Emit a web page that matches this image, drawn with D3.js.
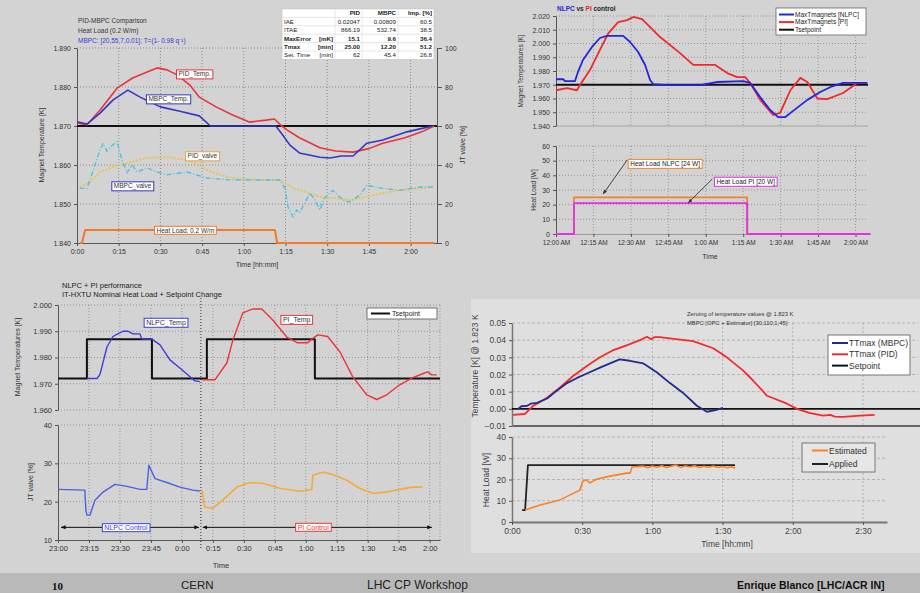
<!DOCTYPE html>
<html><head><meta charset="utf-8">
<script src="https://cdn.jsdelivr.net/npm/d3@7"></script>
<style>
body{margin:0;background:#d3d3d3;}
svg{display:block;font-family:"Liberation Sans",Arial,sans-serif;}
</style></head><body>
<svg id="c" width="920" height="593"></svg>
<script>
// ---------------- DATA ----------------
// Top-left: PID vs MBPC (minutes, K / %)
const tlXTicks = [0,15,30,45,60,75,90,105,120];
const tlXLabels = ["0:00","0:15","0:30","0:45","1:00","1:15","1:30","1:45","2:00"];
const tlYTicks = [1.84,1.85,1.86,1.87,1.88,1.89];
const tlY2Ticks = [0,20,40,60,80,100];
const tlSetpoint = 1.870;
const tlPidTemp = [[0,1.8708],[3.6,1.8703],[8.3,1.8741],[14.4,1.8797],[20,1.8823],[25,1.8838],[28.8,1.8849],[32.4,1.8844],[36,1.8831],[40.6,1.8805],[44,1.8774],[50,1.8749],[56,1.8728],[62,1.871],[68,1.8715],[71,1.8718],[73.7,1.870],[75.5,1.869],[80,1.867],[87.4,1.8644],[93,1.8636],[99.3,1.8633],[105,1.8642],[110,1.8656],[118,1.867],[124,1.8685],[128.5,1.870]];
const tlMbpcTemp = [[0,1.8711],[3.6,1.8705],[8.3,1.8733],[13,1.8767],[18.3,1.8792],[22.7,1.8774],[30,1.8749],[37,1.8738],[44,1.8726],[48,1.870],[71.5,1.870],[74,1.8677],[76.6,1.8651],[80,1.8631],[87.4,1.862],[91,1.8618],[95,1.8623],[99.3,1.8623],[104.3,1.8656],[110,1.8664],[118.7,1.8685],[123,1.8692],[128,1.870]];
const tlMbpcValve = [[1,28],[3.6,28],[8.3,47.7],[9.4,51],[10.8,47],[12.6,50],[14.4,52],[16.2,42.5],[18,36],[19.8,40],[21.6,36.4],[25.2,38.5],[28.8,36.4],[32.4,35],[39.6,36.4],[46.8,33.3],[56,32.3],[73,32.3],[74.8,28],[75.9,18.5],[77.7,13.3],[79,17],[80,15.4],[83.8,25.6],[85.6,22],[87.4,17],[89,23],[92,27],[95.7,22],[98,21],[101.8,24.6],[104.3,29.7],[109,28.2],[116,27],[123.4,28.7],[128,28.7]];
const tlPidValve = [[1,28.7],[4.7,31.3],[8.3,36.4],[13,39],[18,41],[25.2,43.6],[32.4,44],[39.6,42.6],[44,40],[46.8,37.4],[51.4,35],[56,33.3],[66,32.3],[73,32.3],[77.7,28.2],[82.7,26],[87.4,23.6],[92.8,23],[98,22],[103.6,23.6],[110,25.6],[116,27],[128,28.7]];
const tlHeatLoad = [[1,0],[1.8,0],[2.9,6.7],[71.2,6.7],[72,0],[128.5,0]];
const tlTableHead = ["PID","MBPC","Imp. [%]"];
const tlTableLabels = [["IAE",""],["ITAE",""],["MaxError","[mK]"],["Tmax","[min]"],["Set. Time","[min]"]];
const tlTablePID = ["0.02047","866.19","15.1","25.00","62"];
const tlTableMBPC = ["0.00809","532.74","9.6","12.20","45.4"];
const tlTableImp = ["60.5","38.5","36.4","51.2","26.8"];
const tlTableBold = [false,false,true,true,false];

// Top-right: NLPC vs PI (minutes after 12:00 AM)
const trXTicks = [0,15,30,45,60,75,90,105,120];
const trXLabels = ["12:00 AM","12:15 AM","12:30 AM","12:45 AM","1:00 AM","1:15 AM","1:30 AM","1:45 AM","2:00 AM"];
const trYTicks = [1.94,1.95,1.96,1.97,1.98,1.99,2.00,2.01,2.02];
const trY2Ticks = [0,10,20,30,40,50,60];
const trSetpoint = 1.970;
const trNlpc = [[0,1.974],[2.9,1.974],[3.6,1.9727],[7.6,1.9727],[8.8,1.9793],[10.8,1.988],[14.4,1.9975],[17.6,2.004],[20.4,2.0055],[26.9,2.0055],[29.7,2.0011],[32.9,1.9938],[35.7,1.9844],[37.7,1.9735],[38.9,1.9705],[44.5,1.9698],[57.8,1.9698],[64.6,1.972],[75,1.9727],[77.8,1.9713],[81.8,1.961],[85.8,1.9516],[89,1.9465],[91.9,1.9465],[95,1.951],[100.7,1.959],[105.9,1.9647],[110,1.9684],[115,1.9713],[124.7,1.9713]];
const trPi = [[0,1.966],[4.4,1.9676],[8.4,1.966],[9.6,1.9698],[13.6,1.9807],[17.6,1.9953],[21,2.0076],[24.9,2.0156],[28.5,2.017],[31,2.0193],[34.5,2.0178],[41.7,2.0047],[49.7,1.993],[55,1.9844],[63.8,1.9844],[68.6,1.9785],[72.6,1.9756],[75.8,1.9756],[77.8,1.9713],[81.8,1.959],[87,1.948],[89.8,1.9495],[93.9,1.966],[97.9,1.975],[100.7,1.972],[104.7,1.960],[108.7,1.9596],[115,1.964],[120.7,1.9713],[124.7,1.9713]];
const trHeatNlpc = [[0,0],[7.2,25],[76.6,0],[126,0]];
const trHeatPi = [[0,0],[7.2,21],[76.6,0],[126,0]];

// Bottom-left: NLPC + PI performance (minutes after 23:00)
const blXTicks = [0,15,30,45,60,75,90,105,120,135,150,165,180];
const blXLabels = ["23:00","23:15","23:30","23:45","0:00","0:15","0:30","0:45","1:00","1:15","1:30","1:45","2:00"];
const blYTicks = [1.96,1.97,1.98,1.99,2.00];
const blY2Ticks = [10,20,30,40];
const blSwitch = 69.2;
const blSetpoint = [[0,1.972],[14,1.987],[45.5,1.972],[72.1,1.987],[124.4,1.972],[185,1.972]];
const blNlpcTemp = [[14,1.972],[18.9,1.972],[20.3,1.9735],[23.7,1.984],[26.6,1.988],[29,1.989],[31.5,1.990],[33.9,1.990],[36.3,1.989],[39.7,1.989],[40.6,1.987],[45.5,1.987],[49.4,1.9848],[54.2,1.9791],[59,1.976],[63.9,1.9727],[66.3,1.9711],[68.7,1.9708]];
const blPiTemp = [[69.7,1.9715],[76,1.9715],[81.8,1.978],[84.7,1.9867],[89.5,1.997],[94.4,1.9985],[98.7,1.9985],[104,1.9943],[110.8,1.9878],[116,1.9856],[121,1.9856],[122.9,1.987],[125.8,1.9886],[130.6,1.988],[136.5,1.9822],[142.7,1.9727],[149.5,1.9658],[154.4,1.964],[159.2,1.9658],[165.5,1.9696],[171.8,1.9723],[176.6,1.9738],[179,1.9745],[181,1.9734],[183.4,1.9734]];
const blNlpcValve = [[0,23.2],[13,23],[13.5,17.8],[14,16.5],[15.5,16.5],[17.9,20.4],[21.8,22.5],[27.6,24.5],[33.4,24],[39.7,23.2],[43,23.2],[44,29.5],[47,26],[52.7,25],[59,23.8],[65.3,23],[68.7,22.8]];
const blPiValve = [[69.7,23],[71.1,18.6],[75,18.3],[79.8,20.4],[86.6,23.8],[92.9,25],[99.2,24.8],[107.4,23.5],[117,22.7],[122.9,23.2],[123.4,26.9],[128.2,27.7],[133,27.1],[139.8,25.6],[146,23.5],[152.4,22.2],[159.2,22.5],[165.5,23.2],[171.8,23.8],[176.6,23.8]];
const blCtrlNlpc = [1.5,68.2];
const blCtrlPi = [70.2,181];
const blCtrlLevel = 13.3;

// Bottom-right: MBPC vs PID zeroed temperatures (minutes)
const brXTicks = [0,30,60,90,120,150];
const brXLabels = ["0:00","0:30","1:00","1:30","2:00","2:30"];
const brYTicks = [-0.01,0,0.01,0.02,0.03,0.04,0.05];
const brY2Ticks = [0,10,20,30,40];
const brMbpc = [[2.6,0.000],[4,0.0015],[6.4,0.0017],[8,0.003],[10.7,0.0035],[15,0.006],[19.2,0.0106],[23.5,0.015],[27.8,0.018],[32,0.0206],[37.6,0.024],[41.9,0.0265],[46,0.0288],[50.4,0.028],[56,0.0265],[62,0.0212],[67.5,0.015],[73,0.0094],[79,0.0018],[83.3,-0.0017],[87,-0.0008],[90.2,0.0006]];
const brPid = [[0.4,-0.0035],[5.6,-0.003],[9,0.0017],[15,0.0065],[20.5,0.0124],[26,0.019],[32,0.025],[37.6,0.030],[43,0.034],[49,0.037],[54.7,0.040],[57.7,0.042],[59.5,0.0405],[61,0.0418],[63,0.0418],[77.4,0.0394],[86,0.0353],[91.8,0.030],[98.7,0.0224],[103,0.0165],[109,0.0076],[117.5,0.003],[121.8,0.000],[127,-0.0024],[133,-0.004],[136,-0.0035],[138,-0.0045],[141.5,-0.0047],[148.7,-0.004],[155,-0.0035]];
const brSetpoint = 0;
const brApplied = [[4.3,5.6],[5.6,5.6],[6.8,26.8],[95.3,26.8]];
const brEstimated = [[5.6,5.6],[12,8],[20.5,10.4],[29,15],[30.3,19.3],[31.8,19.8],[33.3,18.4],[36.3,20.2],[42,21.6],[49,23],[50.5,23],[51.3,25.9],[56,26.3],[58,25.5],[60,26.4],[62,25.8],[64,26.5],[66,25.6],[68,26.2],[70,26.8],[72,25.7],[74,26.4],[76,25.9],[78,26.5],[80,25.6],[82,26.2],[84,25.8],[86,26.4],[88,25.7],[90,26.1],[92,25.5],[94,26],[95.3,25.3]];

// ---------------- DRAW ----------------
const svg = d3.select('#c');
const FF = '"Liberation Sans",Arial,sans-serif';
svg.append('rect').attr('width',920).attr('height',593).attr('fill','#d3d3d3');
svg.append('rect').attr('x',471).attr('y',299).attr('width',449).attr('height',254).attr('fill','#dfdfdf');
svg.append('rect').attr('x',0).attr('y',573).attr('width',920).attr('height',20).attr('fill','#b9b9b9');

const defs = svg.append('defs');
function marker(id, color, orient){
  defs.append('marker').attr('id',id).attr('viewBox','0 0 10 10').attr('refX',9).attr('refY',5)
    .attr('markerWidth',5).attr('markerHeight',5).attr('orient',orient||'auto-start-reverse')
    .append('path').attr('d','M0,1L10,5L0,9Z').attr('fill',color);
}
marker('ah','#111');
marker('ag','#333');

function hgrid(g, y, ticks, x0, x1, color, dash){
  g.append('g').selectAll('line').data(ticks).join('line')
   .attr('x1',x0).attr('x2',x1).attr('y1',d=>y(d)).attr('y2',d=>y(d))
   .attr('stroke',color).attr('stroke-width',0.8).attr('stroke-dasharray',dash);
}
function vgrid(g, x, ticks, y0, y1, color, dash){
  g.append('g').selectAll('line').data(ticks).join('line')
   .attr('y1',y0).attr('y2',y1).attr('x1',d=>x(d)).attr('x2',d=>x(d))
   .attr('stroke',color).attr('stroke-width',0.8).attr('stroke-dasharray',dash);
}
function styleAxis(a, fs, col){
  a.attr('font-size',fs).attr('font-family',FF);
  a.selectAll('text').attr('fill',col||'#333');
  a.select('.domain').attr('stroke','#555').attr('stroke-width',1);
  a.selectAll('.tick line').attr('stroke','#555');
}
function path(g, data, x, y, color, w, dash, curve){
  const ln = d3.line().x(d=>x(d[0])).y(d=>y(d[1])).curve(curve||d3.curveLinear);
  return g.append('path').datum(data).attr('d',ln).attr('fill','none')
   .attr('stroke',color).attr('stroke-width',w).attr('stroke-dasharray',dash||null)
   .attr('stroke-linejoin','round');
}
function tag(g, cx, cy, text, stroke, color, fs){
  const t = g.append('text').attr('x',cx).attr('y',cy).attr('text-anchor','middle')
    .attr('dy','0.35em').attr('font-size',fs).attr('fill',color).text(text);
  const bb = t.node().getBBox();
  g.insert('rect',()=>t.node()).attr('x',bb.x-2).attr('y',bb.y-0.5).attr('width',bb.width+4)
    .attr('height',bb.height+1).attr('fill','#fff').attr('stroke',stroke).attr('stroke-width',1);
}
function txt(g, x, y, s, fs, o){
  o = o||{};
  const t = g.append('text').attr('x',x).attr('y',y).attr('font-size',fs).text(s)
   .attr('fill',o.fill||'#333').attr('text-anchor',o.anchor||'start')
   .attr('font-weight',o.bold?'bold':null);
  if (o.rot) t.attr('transform',`rotate(${o.rot},${x},${y})`);
  if (o.family) t.attr('font-family',o.family);
  return t;
}

// ===== TOP-LEFT =====
{
  const g = svg.append('g');
  const x = d3.scaleLinear().domain([0,129.5]).range([77,437]);
  const y = d3.scaleLinear().domain([1.84,1.89]).range([243,48]);
  const y2 = d3.scaleLinear().domain([0,100]).range([243,48]);
  hgrid(g, y, tlYTicks.slice(1), 77, 437, '#777', '1,2');
  vgrid(g, x, tlXTicks.slice(1), 48, 243, '#777', '1,2');
  const ax = g.append('g').attr('transform','translate(0,243)')
    .call(d3.axisBottom(x).tickValues(tlXTicks).tickFormat((d,i)=>tlXLabels[i]).tickSize(3).tickSizeOuter(0));
  styleAxis(ax, 7);
  const ay = g.append('g').attr('transform','translate(77,0)')
    .call(d3.axisLeft(y).tickValues(tlYTicks).tickFormat(d3.format('.3f')).tickSize(3).tickSizeOuter(0));
  styleAxis(ay, 7);
  const ay2 = g.append('g').attr('transform','translate(437,0)')
    .call(d3.axisRight(y2).tickValues(tlY2Ticks).tickSize(5).tickSizeOuter(0));
  styleAxis(ay2, 7);
  txt(g, 257, 267, 'Time [hh:mm]', 7, {anchor:'middle'});
  txt(g, 44, 145, 'Magnet Temperature [K]', 7, {anchor:'middle', rot:-90});
  txt(g, 465, 145, 'JT valve [%]', 7, {anchor:'middle', rot:-90});
  txt(g, 78, 23, 'PID-MBPC Comparison', 6.5);
  txt(g, 78, 33, 'Heat Load (0.2 W/m)', 6.5);
  txt(g, 78, 43, 'MBPC: [20,55,7,0.01]; T=(1- 0.98 q⁻¹)', 6.5, {fill:'#3a3ad0'});

  path(g, tlHeatLoad, x, y2, '#f07a28', 2);
  path(g, tlPidValve, x, y2, '#eac34a', 1.8, '2,1.5');
  path(g, tlMbpcValve, x, y2, '#4fc3dc', 1.4, '5,2,1,2');
  g.append('line').attr('x1',x(0)).attr('x2',x(129.5)).attr('y1',y(tlSetpoint)).attr('y2',y(tlSetpoint))
    .attr('stroke','#111').attr('stroke-width',2.2);
  path(g, tlPidTemp, x, y, '#e8353a', 1.6);
  path(g, tlMbpcTemp, x, y, '#3636c4', 1.6);

  tag(g, x(42.3), y(1.8833), 'PID_Temp.', '#e8353a', '#333', 6.5);
  tag(g, x(32.9), y(1.8769), 'MBPC_Temp.', '#3636c4', '#333', 6.5);
  tag(g, x(45.1), y2(44.6), 'PID_valve', '#e9a24a', '#333', 6.5);
  tag(g, x(20), y2(29.2), 'MBPC_valve', '#3636c4', '#333', 6.5);
  tag(g, x(39), y2(6.4), 'Heat Load: 0.2 W/m', '#f07a28', '#333', 6.5);

  // table
  const tg = g.append('g').attr('font-size',6);
  const cols = [282,335,362,398,434];
  const r0 = 9, rh = 8.4;
  tg.append('rect').attr('x',cols[0]).attr('y',r0).attr('width',cols[4]-cols[0]).attr('height',rh*6).attr('fill','#fff').attr('stroke','#bbb').attr('stroke-width',0.5);
  for (let i=1;i<6;i++) tg.append('line').attr('x1',cols[0]).attr('x2',cols[4]).attr('y1',r0+rh*i).attr('y2',r0+rh*i).attr('stroke','#ccc').attr('stroke-width',0.5);
  for (let j=1;j<4;j++) tg.append('line').attr('x1',cols[j]).attr('x2',cols[j]).attr('y1',r0).attr('y2',r0+rh*6).attr('stroke','#ccc').attr('stroke-width',0.5);
  tlTableHead.forEach((h,j)=> txt(tg, cols[j+2]-2, r0+rh-2, h, 6.2, {anchor:'end', bold:true, fill:'#222'}));
  tlTableLabels.forEach((l,i)=>{
    const yy = r0+rh*(i+2)-2, b = tlTableBold[i];
    txt(tg, cols[0]+2, yy, l[0], 6.2, {bold:b, fill:'#222'});
    if (l[1]) txt(tg, cols[1]-2, yy, l[1], 6.2, {anchor:'end', bold:b, fill:'#222'});
    txt(tg, cols[2]-2, yy, tlTablePID[i], 6.2, {anchor:'end', bold:b, fill:'#222'});
    txt(tg, cols[3]-2, yy, tlTableMBPC[i], 6.2, {anchor:'end', bold:b, fill:'#222'});
    txt(tg, cols[4]-2, yy, tlTableImp[i], 6.2, {anchor:'end', bold:b, fill:'#222'});
  });
}

// ===== TOP-RIGHT =====
{
  const g = svg.append('g');
  const x = d3.scaleLinear().domain([0,125]).range([556,868]);
  const y = d3.scaleLinear().domain([1.94,2.02]).range([126,16]);
  const y2 = d3.scaleLinear().domain([0,60]).range([234,146]);
  hgrid(g, y, trYTicks.slice(1), 556, 868, '#888', '1,2');
  vgrid(g, x, trXTicks.slice(1), 16, 126, '#888', '1,2');
  hgrid(g, y2, trY2Ticks.slice(1), 556, 868, '#888', '1,2');
  vgrid(g, x, trXTicks.slice(1), 146, 234, '#888', '1,2');
  g.append('line').attr('x1',556).attr('x2',868).attr('y1',126).attr('y2',126).attr('stroke','#999').attr('stroke-width',0.8);
  const ay = g.append('g').attr('transform','translate(556,0)')
    .call(d3.axisLeft(y).tickValues(trYTicks).tickFormat(d3.format('.3f')).tickSize(3).tickSizeOuter(0));
  styleAxis(ay, 7);
  const ay2 = g.append('g').attr('transform','translate(556,0)')
    .call(d3.axisLeft(y2).tickValues(trY2Ticks).tickSize(3).tickSizeOuter(0));
  styleAxis(ay2, 7);
  const ax = g.append('g').attr('transform','translate(0,234)')
    .call(d3.axisBottom(x).tickValues(trXTicks).tickFormat((d,i)=>trXLabels[i]).tickSize(3).tickSizeOuter(0));
  styleAxis(ax, 6.5);
  ax.select('.domain').attr('stroke','#999');
  txt(g, 710, 259, 'Time', 7, {anchor:'middle'});
  txt(g, 523, 71, 'Magnet Temperatures [K]', 6.5, {anchor:'middle', rot:-90});
  txt(g, 536, 190, 'Heat Load [W]', 6.5, {anchor:'middle', rot:-90});
  const tt = txt(g, 557, 11, '', 6.5, {bold:true, fill:'#222'});
  tt.append('tspan').attr('fill','#2323e0').text('NLPC');
  tt.append('tspan').text(' vs ');
  tt.append('tspan').attr('fill','#e82020').text('PI');
  tt.append('tspan').text(' control');

  g.append('line').attr('x1',x(0)).attr('x2',x(125)).attr('y1',y(trSetpoint)).attr('y2',y(trSetpoint))
    .attr('stroke','#111').attr('stroke-width',2);
  path(g, trPi, x, y, '#ee2a2a', 1.8);
  path(g, trNlpc, x, y, '#2525e0', 1.8);

  path(g, trHeatNlpc, x, y2, '#f0842a', 1.8, null, d3.curveStepAfter);
  path(g, trHeatPi, x, y2, '#e032e0', 1.8, null, d3.curveStepAfter);

  // legend
  const lg = g.append('g');
  lg.append('rect').attr('x',776).attr('y',8).attr('width',90).attr('height',27).attr('fill','#fff').attr('stroke','#666').attr('stroke-width',0.8);
  [['MaxTmagnets [NLPC]','#2525e0'],['MaxTmagnets [PI]','#ee2a2a'],['Tsetpoint','#111']].forEach((e,i)=>{
    const yy = 14.5 + i*7.6;
    lg.append('line').attr('x1',779).attr('x2',794).attr('y1',yy).attr('y2',yy).attr('stroke',e[1]).attr('stroke-width',2);
    txt(lg, 795, yy+2.3, e[0], 6.5, {fill:'#222'});
  });
  // annotations
  g.append('line').attr('x1',x(28.5)).attr('y1',y2(50.4)).attr('x2',x(18.9)).attr('y2',y2(27.3))
    .attr('stroke','#333').attr('stroke-width',0.9).attr('marker-end','url(#ag)');
  g.append('line').attr('x1',x(62.6)).attr('y1',y2(37.5)).attr('x2',x(53)).attr('y2',y2(21.3))
    .attr('stroke','#333').attr('stroke-width',0.9).attr('marker-end','url(#ag)');
  tag(g, x(43.7), y2(48), 'Heat Load NLPC [24 W]', '#f0842a', '#222', 6.5);
  tag(g, x(76), y2(35.8), 'Heat Load PI [20 W]', '#e032e0', '#222', 6.5);
}

// ===== BOTTOM-LEFT =====
{
  const g = svg.append('g');
  const x = d3.scaleLinear().domain([0,185]).range([58,440]);
  const y = d3.scaleLinear().domain([1.96,2.0]).range([410,305]);
  const y2 = d3.scaleLinear().domain([10,40]).range([540,425]);
  hgrid(g, y, blYTicks, 58, 440, '#888', '1,2');
  vgrid(g, x, blXTicks.slice(1).concat([185]), 305, 410, '#888', '1,2');
  hgrid(g, y2, blY2Ticks.slice(1), 58, 440, '#888', '1,2');
  vgrid(g, x, blXTicks.slice(1).concat([185]), 425, 540, '#888', '1,2');
  const ay = g.append('g').attr('transform','translate(58,0)')
    .call(d3.axisLeft(y).tickValues(blYTicks).tickFormat(d3.format('.3f')).tickSize(3).tickSizeOuter(0));
  styleAxis(ay, 7.5);
  const ay2 = g.append('g').attr('transform','translate(58,0)')
    .call(d3.axisLeft(y2).tickValues(blY2Ticks).tickSize(3).tickSizeOuter(0));
  styleAxis(ay2, 7.5);
  const ax = g.append('g').attr('transform','translate(0,540)')
    .call(d3.axisBottom(x).tickValues(blXTicks).tickFormat((d,i)=>blXLabels[i]).tickSize(3).tickSizeOuter(0));
  styleAxis(ax, 7.5);
  txt(g, 221, 568, 'Time', 7.5, {anchor:'middle'});
  txt(g, 20, 357, 'Magnet Temperatures [K]', 7, {anchor:'middle', rot:-90});
  txt(g, 33, 482, 'JT valve [%]', 7, {anchor:'middle', rot:-90});
  txt(g, 62, 288, 'NLPC + PI performance', 7.5, {fill:'#222'});
  txt(g, 62, 297, 'IT-HXTU Nominal Heat Load + Setpoint Change', 7.5, {fill:'#222'});

  g.append('line').attr('x1',x(blSwitch)).attr('x2',x(blSwitch)).attr('y1',298).attr('y2',548)
    .attr('stroke','#333').attr('stroke-width',1).attr('stroke-dasharray','1,2');

  path(g, blSetpoint, x, y, '#111', 2, null, d3.curveStepAfter);
  path(g, blNlpcTemp, x, y, '#3c3ce0', 1.4);
  path(g, blPiTemp, x, y, '#ec3535', 1.4);
  path(g, blNlpcValve, x, y2, '#4a62e2', 1.4);
  path(g, blPiValve, x, y2, '#f2ab3c', 1.6);

  [blCtrlNlpc, blCtrlPi].forEach(c=>{
    g.append('line').attr('x1',x(c[0])).attr('x2',x(c[1])).attr('y1',y2(blCtrlLevel)).attr('y2',y2(blCtrlLevel))
      .attr('stroke','#111').attr('stroke-width',1).attr('marker-start','url(#ah)').attr('marker-end','url(#ah)');
  });
  tag(g, x(32.9), y2(13.2), 'NLPC Control', '#3c3ce0', '#3c3ce0', 7);
  tag(g, x(123.6), y2(13.3), 'PI Control', '#ec3535', '#ec3535', 7);
  tag(g, x(52.3), y(1.9934), 'NLPC_Temp', '#3c3ce0', '#333', 7);
  tag(g, x(115.6), y(1.9945), 'PI_Temp', '#ec3535', '#333', 7);
  // legend
  g.append('rect').attr('x',367).attr('y',308).attr('width',70).attr('height',11).attr('fill','#fff').attr('stroke','#555').attr('stroke-width',0.8);
  g.append('line').attr('x1',371).attr('x2',390).attr('y1',313.5).attr('y2',313.5).attr('stroke','#111').attr('stroke-width',2);
  txt(g, 392, 316, 'Tsetpoint', 7, {fill:'#222'});
}

// ===== BOTTOM-RIGHT =====
{
  const g = svg.append('g');
  const x = d3.scaleLinear().domain([0,173.5]).range([512,918]);
  const y = d3.scaleLinear().domain([-0.01,0.05]).range([426,323]);
  const y2 = d3.scaleLinear().domain([0,40]).range([522,437]);
  const xEnd2 = 887;
  hgrid(g, y, brYTicks.filter(d=>d>0), 512, 918, '#a8a8a8', '3,2');
  vgrid(g, x, brXTicks.slice(1), 323, 426, '#a8a8a8', '2,2');
  hgrid(g, y2, brY2Ticks.slice(1), 512, xEnd2, '#a8a8a8', '3,2');
  vgrid(g, x, brXTicks.slice(1), 437, 522, '#a8a8a8', '2,2');
  g.append('line').attr('x1',512).attr('x2',920).attr('y1',y(-0.01)).attr('y2',y(-0.01)).attr('stroke','#666').attr('stroke-width',2);
  const ay = g.append('g').attr('transform','translate(512,0)')
    .call(d3.axisLeft(y).tickValues(brYTicks).tickFormat(d3.format('.2f')).tickSize(3).tickSizeOuter(0));
  styleAxis(ay, 8.5, '#444');
  ay.select('.domain').attr('stroke','#777').attr('stroke-width',1.5);
  const ay2 = g.append('g').attr('transform','translate(512,0)')
    .call(d3.axisLeft(y2).tickValues(brY2Ticks).tickSize(3).tickSizeOuter(0));
  styleAxis(ay2, 8.5, '#444');
  ay2.select('.domain').attr('stroke','#777').attr('stroke-width',1.5);
  const xb = d3.scaleLinear().domain([0,(xEnd2-512)/406*173.5]).range([512,xEnd2]);
  const ax = g.append('g').attr('transform','translate(0,522)')
    .call(d3.axisBottom(xb).tickValues(brXTicks).tickFormat((d,i)=>brXLabels[i]).tickSize(3).tickSizeOuter(0));
  styleAxis(ax, 8.5, '#444');
  ax.select('.domain').attr('stroke','#777').attr('stroke-width',2);
  txt(g, 727, 547, 'Time [hh:mm]', 8.5, {anchor:'middle', fill:'#444'});
  txt(g, 478, 366, 'Temperature [K] @ 1.823 K', 8.5, {anchor:'middle', rot:-90, fill:'#444'});
  txt(g, 489, 480, 'Heat Load [W]', 8.5, {anchor:'middle', rot:-90, fill:'#444'});
  txt(g, 687, 316, 'Zeroing of temperature values @ 1.823 K', 5.8, {fill:'#333'});
  txt(g, 687, 325, 'MBPC [OPC + Estimator] [30,110,1,45]', 5.8, {fill:'#333'});

  g.append('line').attr('x1',512).attr('x2',920).attr('y1',y(brSetpoint)).attr('y2',y(brSetpoint)).attr('stroke','#111').attr('stroke-width',1.6);
  path(g, brPid, x, y, '#f52a2a', 1.8);
  path(g, brMbpc, x, y, '#1f2d8c', 1.8);
  path(g, brApplied, x, y2, '#222', 1.8);
  path(g, brEstimated, x, y2, '#ff7f24', 1.6);

  const l1 = g.append('g');
  l1.append('rect').attr('x',828).attr('y',335).attr('width',82).attr('height',40).attr('fill','#fff').attr('stroke','#777').attr('stroke-width',1);
  [['TTmax (MBPC)','#1f2d8c'],['TTmax (PID)','#f52a2a'],['Setpoint','#111']].forEach((e,i)=>{
    const yy = 343 + i*11.3;
    l1.append('line').attr('x1',832).attr('x2',848).attr('y1',yy).attr('y2',yy).attr('stroke',e[1]).attr('stroke-width',2);
    txt(l1, 849, yy+3, e[0], 8.5, {fill:'#333'});
  });
  const l2 = g.append('g');
  l2.append('rect').attr('x',802).attr('y',443).attr('width',73).attr('height',29).attr('fill','#e6e6e6').attr('stroke','#777').attr('stroke-width',1);
  [['Estimated','#ff7f24'],['Applied','#222']].forEach((e,i)=>{
    const yy = 450.5 + i*13.5;
    l2.append('line').attr('x1',812).attr('x2',828).attr('y1',yy).attr('y2',yy).attr('stroke',e[1]).attr('stroke-width',2);
    txt(l2, 829, yy+3, e[0], 8.5, {fill:'#333'});
  });
}

// ===== FOOTER =====
{
  const g = svg.append('g');
  txt(g, 52, 590, '10', 11, {bold:true, fill:'#111', family:'"Liberation Serif",serif'});
  txt(g, 181, 589, 'CERN', 11.5, {fill:'#222'});
  txt(g, 367, 589, 'LHC CP Workshop', 12, {fill:'#222'});
  txt(g, 737, 589, 'Enrique Blanco [LHC/ACR IN]', 10.5, {bold:true, fill:'#111'});
}
</script>
</body></html>
